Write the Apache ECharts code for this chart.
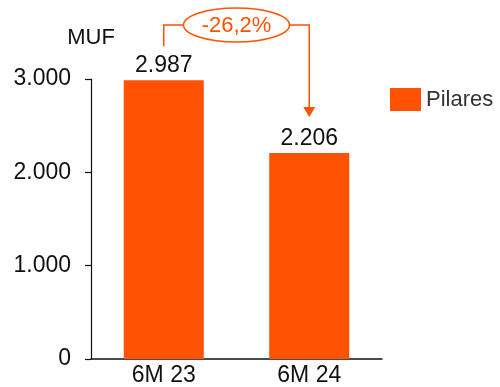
<!DOCTYPE html>
<html>
<head>
<meta charset="utf-8">
<script src="https://cdn.jsdelivr.net/npm/echarts@6/dist/echarts.min.js"></script>
<style>
  html, body { margin: 0; padding: 0; background: #fff; }
  #chart { width: 500px; height: 387px; }
</style>
</head>
<body>
<div id="chart"></div>
<script>
// Pillar revenue, first half of each year (MUF)
const categories = ['6M 23', '6M 24'];
const pilares = [2987, 2206];
const yTicks = [0, 1000, 2000, 3000];
const changeLabel = '-26,2%';
const unitLabel = 'MUF';
const seriesName = 'Pilares';

const ORANGE = '#FF5203';
const FONT = 'Liberation Sans';

const fmt = v => String(v).replace(/\B(?=(\d{3})+(?!\d))/g, '.');

const chart = echarts.init(document.getElementById('chart'), null, { renderer: 'canvas' });

chart.setOption({
  animation: false,
  textStyle: { fontFamily: FONT },
  grid: { left: 91, right: 118, top: 79, bottom: 28, containLabel: false },
  legend: {
    data: [seriesName],
    left: 385, top: 83,
    itemWidth: 31, itemHeight: 23, itemGap: 8,
    textStyle: { fontFamily: FONT, fontSize: 22, color: '#333' },
    icon: 'rect'
  },
  xAxis: {
    type: 'category',
    data: categories,
    axisLine: { lineStyle: { color: '#111', width: 1.5 } },
    axisTick: { show: false },
    axisLabel: { fontFamily: FONT, fontSize: 23, color: '#111', margin: 5 }
  },
  yAxis: {
    type: 'value',
    min: yTicks[0], max: yTicks[yTicks.length - 1], interval: 1000,
    name: unitLabel,
    nameLocation: 'end',
    nameGap: 30,
    nameTextStyle: { fontFamily: FONT, fontSize: 22, color: '#111', align: 'center' },
    axisLine: { show: true, lineStyle: { color: '#111', width: 1.2 } },
    axisTick: { show: true, length: 6, lineStyle: { color: '#111', width: 1.2 } },
    splitLine: { show: false },
    axisLabel: { fontFamily: FONT, fontSize: 23, color: '#111', margin: 20, formatter: fmt }
  },
  series: [{
    name: seriesName,
    type: 'bar',
    data: pilares,
    barWidth: '55%',
    itemStyle: { color: ORANGE },
    label: {
      show: true, position: 'top', distance: 3,
      fontFamily: FONT, fontSize: 23, color: '#111',
      formatter: p => fmt(p.value)
    }
  }]
});

// Bracket connector with the change between the two bars
function drawBracket() {
  const p0 = chart.convertToPixel({ seriesIndex: 0 }, [0, pilares[0]]);
  const p1 = chart.convertToPixel({ seriesIndex: 0 }, [1, pilares[1]]);
  const yTop = 25;
  const ex = 236.5, rx = 53, ry = 17;
  const y0 = p0[1] - 34;      // stop above first value label
  const y1 = p1[1] - 36;      // arrow tip above second value label
  chart.setOption({
    graphic: [
      { type: 'polyline', shape: { points: [[p0[0], y0], [p0[0], yTop], [ex - rx, yTop]] },
        style: { stroke: ORANGE, lineWidth: 1.5, fill: null } },
      { type: 'polyline', shape: { points: [[ex + rx, yTop], [p1[0], yTop], [p1[0], y1 - 9]] },
        style: { stroke: ORANGE, lineWidth: 1.5, fill: null } },
      { type: 'polygon', shape: { points: [[p1[0] - 6, y1 - 10], [p1[0] + 6, y1 - 10], [p1[0], y1]] },
        style: { fill: ORANGE } },
      { type: 'ellipse', shape: { cx: ex, cy: yTop, rx: rx, ry: ry },
        style: { stroke: ORANGE, lineWidth: 1.5, fill: '#fff' } },
      { type: 'text', x: ex, y: yTop + 0.5,
        style: { text: changeLabel, fill: ORANGE, font: '22px ' + FONT, align: 'center', verticalAlign: 'middle' } }
    ]
  });
}
drawBracket();
</script>
</body>
</html>
